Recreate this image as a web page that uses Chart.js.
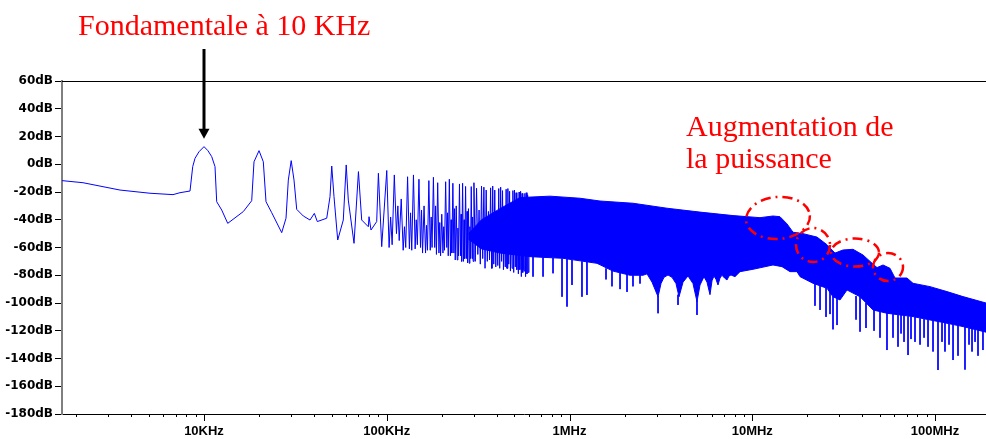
<!DOCTYPE html>
<html>
<head>
<meta charset="utf-8">
<script src="https://cdn.jsdelivr.net/npm/chart.js@4.4.1/dist/chart.umd.min.js"></script>
<style>
html,body{margin:0;padding:0;background:#fff;}
#c{display:block;}
</style>
</head>
<body>
<canvas id="c" width="986" height="439"></canvas>
<script>
// ---------- data ----------
const xMinHz = 1671;
const xMaxHz = 190100000;
const yMinDb = -180;
const yMaxDb = 60;

const majorTickHz = [1e4, 1e5, 1e6, 1e7, 1e8];
const majorTickLabels = ['10KHz', '100KHz', '1MHz', '10MHz', '100MHz'];

// discrete part of the spectrum (harmonics of 10 kHz and their sidebands)
const traceHz = [
  1671, 2177, 3471, 5064, 6767, 7390, 8384, 8675, 8930, 9389, 10000, 10500, 11020, 11487, 11735, 12502, 13484,
  16408, 18239, 18776, 20000, 21110, 21840, 23470, 26620, 28100, 28930, 30000, 31080, 32160, 34950,
  38020, 40150, 41690, 46940, 48920, 50000, 51450, 53900, 57830, 60000, 61600, 66200, 70000, 72930,
  79250, 80000, 81990, 88100, 90000, 93850,
  100000, 103000, 105000, 107000, 110000, 113000, 115000, 117000, 120000, 123000, 125000, 127000,
  130000, 133000, 135000, 137000, 140000, 143000, 145000, 147000, 150000, 153000, 155000, 157000,
  160000, 163000, 165000, 167000, 170000, 173000, 175000, 177000, 180000, 183000, 185000, 187000,
  190000, 193000, 195000, 197000, 200000, 203000, 205000, 207000, 210000, 213000, 215000, 217000,
  220000, 223000, 225000, 227000, 230000, 233000, 235000, 237000, 240000, 243000, 245000, 247000,
  250000, 253000, 255000, 257000, 260000, 263000, 265000, 267000, 270000, 273000, 275000, 277000,
  280000, 283000, 285000, 287000, 290000, 293000, 295000, 297000,
  300000, 305000, 310000, 315000, 320000, 325000, 330000, 335000, 340000, 345000, 350000, 355000,
  360000, 365000, 370000, 375000, 380000, 385000, 390000, 395000, 400000, 405000, 410000, 415000,
  420000, 425000, 430000, 435000, 440000, 445000, 450000, 455000, 460000, 465000, 470000, 475000,
  480000, 485000, 490000, 495000, 500000, 505000, 510000, 515000, 520000, 525000, 530000, 535000,
  540000, 545000, 550000, 555000, 560000, 565000, 570000, 575000, 580000, 585000, 590000, 595000, 600000
];
const traceDb = [
  -11.8, -13.3, -18.6, -20.9, -21.9, -20.5, -19.3, -1.7, 4.3, 9.0, 12.7, 9.8, 5.5, -1.7, -27, -33, -42.6,
  -34.1, -26.3, 1.8, 9.8, 1.8, -27, -34.9, -49.3, -38.9, -11.4, 2.6, -11.4, -32.5, -37.3,
  -40.2, -35.4, -41.3, -38.9, -23.4, -1.3, -23.4, -54.6, -40.2, -0.5, -25.8, -57, -5.3, -40.2,
  -45, -37.8, -47.4, -41.3, -6.5, -59.4,
  -4.5, -60, -38, -58, -7.7, -50, -30, -55, -25, -62, -45, -60,
  -9, -61, -35, -62, -7.7, -61, -40, -58, -10.8, -60, -33, -64,
  -30, -64, -44, -62, -11.8, -62, -38, -60, -9.4, -60, -30, -65,
  -13.3, -64, -42, -66, -36, -64, -45, -62, -12.6, -60, -35, -66,
  -10.8, -66, -40, -64, -13.7, -64, -32, -69, -30, -69, -46, -66,
  -14.2, -66, -36, -70, -13.7, -70, -40, -68, -16, -68, -34, -71,
  -32, -71.4, -45, -68, -16.1, -68, -38, -70,
  -13.3, -70, -17.3, -65, -33, -72, -15.7, -68, -16.5, -75, -18.6, -70,
  -34, -69, -17, -75, -15.7, -72, -18.6, -74, -35, -73, -17.5, -75,
  -16.5, -70, -19, -76, -36, -74, -18, -75, -17.5, -72, -19.5, -77,
  -37, -75, -19, -78, -18.6, -74, -20.5, -76, -38, -79, -20, -76,
  -19.5, -81, -21, -78, -39, -77, -21, -81, -20.5, -79, -22, -78, -40
];

// dense part: upper edge of the band
const bandTopHz = [
  280000, 330000, 416600, 535900, 782300, 1141600, 1468500, 2225000, 3416000, 5178000, 7849000,
  11026000, 12987000, 14182000, 15497000, 16711000, 18953000, 22614000, 25645000, 28365000,
  31370000, 35590000, 40365000, 44100000, 48160000, 51940000, 56720000, 60400000, 70270000,
  75780000, 93890000, 116340000, 142300000, 190100000
];
const bandTopDb = [
  -50, -40, -32, -24, -23, -24.5, -26.5, -28.1, -31.7, -34.5, -37,
  -38.5, -37.3, -37.8, -43, -49, -50, -52.5, -58, -64,
  -61.8, -61.3, -65.4, -70, -74.5, -72.6, -75, -82, -82,
  -85.8, -88.2, -91.8, -95.4, -100
];

// dense part: lower edge of the band
const bandLowHz = [
  280000, 330000, 416600, 608000, 921600, 1414000, 1730000, 2144000, 2525000, 2655000, 2829000,
  3051000, 3167000, 3289000, 3459000, 3638000, 3826000, 3974000, 4179000, 4450000, 4739000,
  4984000, 5178000, 5445000, 5655000, 5872000, 6022000, 6176000, 6334000, 6495000, 6660000,
  6830000, 7050000, 7274000, 7460000, 7649000, 8044000, 8570000, 10095000, 12987000, 14546000,
  16094000, 17577000, 18252000, 21500000, 25645000, 27661000, 30214000, 33001000, 38870000,
  45786000, 54608000, 64327000, 75780000, 93890000, 116340000, 142300000, 190100000
];
const bandLowDb = [
  -54, -61, -64, -66.6, -67.8, -71.4, -77, -80, -80, -79, -85,
  -95.5, -86, -81.5, -79.8, -81.5, -86, -95.5, -85, -80.5, -86,
  -99, -87, -81, -85, -94, -84, -80.5, -83, -87, -82,
  -80, -82, -83.4, -80.5, -79.8, -81, -77.4, -75.7, -72.6, -73.8,
  -77.4, -77.4, -81, -85.8, -89.4, -95.5, -97.8, -90.6, -95.5,
  -105, -107.4, -108.6, -109.8, -112.2, -114.6, -117, -121
];

// thin downward spikes below the band
const spikeHz = [
  376600, 455000, 556700, 631500, 716400, 812400, 910000, 969000, 1032000, 1170000, 1246000,
  1584000, 1708000, 1890000, 2064000, 2225000, 2431000, 3051000, 3924000, 4984000,
  22040000, 23490000, 25330000, 26630000, 27660000, 29096000, 36960000, 38870000, 41920000, 46370000, 50000000,
  54608000, 58900000, 62730000, 65170000, 67670000, 71170000, 73900000, 77720000, 82800000, 87100000, 91560000, 97520000,
  103850000, 109200000, 113400000, 119300000, 125500000, 133600000, 145900000, 153500000, 159400000, 165600000, 171900000, 183000000
];
const spikeTopDb = [
  -63, -64, -66, -66.6, -67, -67.5, -68, -68, -69, -70, -70,
  -75, -76, -78, -79, -80, -80, -95, -94, -98,
  -86, -87, -89, -90, -95, -96, -95, -95.5, -100, -105, -106,
  -107, -108, -108.5, -108.6, -109, -109.5, -109.7, -110, -111, -111.5, -112, -112.5,
  -113, -114, -114, -115, -115.5, -116, -117, -118, -118, -119, -119, -120
];
const spikeLowDb = [
  -75, -75, -76, -81, -81, -78.6, -95.5, -102.6, -87, -95.5, -94.2,
  -83, -88, -90, -92, -88, -86, -107.4, -101.4, -108.6,
  -102, -105, -110, -108, -119, -115.9, -112, -120.7, -118, -120, -125,
  -133.9, -125, -131.5, -122, -128, -137.5, -126, -128, -130, -125, -131.5, -135,
  -148.3, -128, -135, -130, -141.1, -138, -148, -130, -135, -128, -138, -133.9
];

// annotation ellipses (centre frequency, centre level)
const circleHz = [13830000, 21500000, 36490000, 55300000];
const circleDb = [-38.7, -58.2, -63.6, -74.1];

// ---------- chart ----------
const BLUE = '#0000FF';
const pts = (xs, ys) => xs.map((v, i) => ({x: v, y: ys[i]}));
const spikePts = [];
spikeHz.forEach((f, i) => {
  spikePts.push({x: f, y: spikeTopDb[i]}, {x: f, y: spikeLowDb[i]}, {x: f, y: null});
});

const annot = {
  id: 'annot',
  afterDraw(chart) {
    const {ctx, chartArea: a, scales: {x, y}} = chart;
    ctx.save();
    // top frame line
    ctx.strokeStyle = '#000';
    ctx.lineWidth = 1;
    ctx.beginPath();
    ctx.moveTo(a.left, Math.round(a.top) + 0.5);
    ctx.lineTo(a.right, Math.round(a.top) + 0.5);
    ctx.stroke();
    // x ticks: minor and major
    ctx.beginPath();
    for (let e = 3; e <= 8; e++) {
      for (let k = 1; k <= 9; k++) {
        const v = k * Math.pow(10, e);
        if (v < xMinHz || v > xMaxHz) continue;
        const px = Math.round(x.getPixelForValue(v)) + 0.5;
        const len = k === 1 ? 7 : 3;
        ctx.moveTo(px, a.bottom);
        ctx.lineTo(px, a.bottom + len);
      }
    }
    ctx.stroke();

    // arrow to fundamental
    const ax = Math.round(x.getPixelForValue(1e4));
    const tipY = y.getPixelForValue(12.7) - 8;
    ctx.strokeStyle = '#000';
    ctx.fillStyle = '#000';
    ctx.lineWidth = 3;
    ctx.beginPath();
    ctx.moveTo(ax, 49);
    ctx.lineTo(ax, tipY - 8);
    ctx.stroke();
    ctx.beginPath();
    ctx.moveTo(ax - 5.5, tipY - 10);
    ctx.lineTo(ax + 5.5, tipY - 10);
    ctx.lineTo(ax, tipY);
    ctx.closePath();
    ctx.fill();

    // dash-dot ellipses
    const radii = [[32, 21, -0.08], [17, 17, 0], [24, 14, 0], [15, 14, 0]];
    ctx.strokeStyle = '#FF0000';
    ctx.lineWidth = 2.5;
    ctx.setLineDash([10, 5, 2, 5]);
    circleHz.forEach((f, i) => {
      const cx = x.getPixelForValue(f);
      const cy = y.getPixelForValue(circleDb[i]);
      ctx.beginPath();
      ctx.ellipse(cx, cy, radii[i][0], radii[i][1], radii[i][2], 0, Math.PI * 2);
      ctx.stroke();
    });
    ctx.setLineDash([]);

    // red captions
    ctx.fillStyle = '#FF0000';
    ctx.font = '30px "Liberation Serif", "Times New Roman", serif';
    ctx.textBaseline = 'alphabetic';
    ctx.textAlign = 'left';
    ctx.fillText('Fondamentale à 10 KHz', 78, 35);
    ctx.fillText('Augmentation de', 686, 136);
    ctx.fillText('la puissance', 686, 168);
    ctx.restore();
  }
};

new Chart(document.getElementById('c'), {
  type: 'line',
  data: {
    datasets: [
      {data: pts(traceHz, traceDb), borderColor: BLUE, borderWidth: 1, pointRadius: 0, fill: false, tension: 0},
      {data: spikePts, borderColor: BLUE, borderWidth: 1, pointRadius: 0, fill: false, spanGaps: false, tension: 0},
      {data: pts(bandTopHz, bandTopDb), borderColor: BLUE, backgroundColor: BLUE, borderWidth: 1, pointRadius: 0, fill: '+1', tension: 0},
      {data: pts(bandLowHz, bandLowDb), borderColor: BLUE, borderWidth: 1, pointRadius: 0, fill: false, tension: 0}
    ]
  },
  options: {
    responsive: false,
    animation: false,
    devicePixelRatio: 1,
    layout: {padding: {top: 81, left: 0, right: 0, bottom: 0}},
    plugins: {legend: {display: false}, tooltip: {enabled: false}},
    scales: {
      x: {
        type: 'logarithmic',
        min: xMinHz,
        max: xMaxHz,
        afterBuildTicks: s => { s.ticks = majorTickHz.map(v => ({value: v})); },
        afterFit: s => { s.height = 25; },
        ticks: {
          autoSkip: false, maxRotation: 0, padding: 10, color: '#000',
          font: {family: '"Liberation Sans", Arial, sans-serif', size: 13, weight: 'bold'},
          callback: (v, i) => majorTickLabels[i]
        },
        grid: {drawOnChartArea: false, drawTicks: false},
        border: {display: true, color: '#000', width: 1}
      },
      y: {
        min: yMinDb,
        max: yMaxDb,
        afterFit: s => { s.width = 62; },
        ticks: {
          stepSize: 20, padding: 2, color: '#000',
          font: {family: '"DejaVu Sans", sans-serif', size: 12, weight: 'bold'},
          callback: v => v + 'dB'
        },
        grid: {drawOnChartArea: false, drawTicks: true, tickLength: 7, color: '#000'},
        border: {display: true, color: '#7f7f7f', width: 2}
      }
    }
  },
  plugins: [annot]
});
</script>
</body>
</html>
